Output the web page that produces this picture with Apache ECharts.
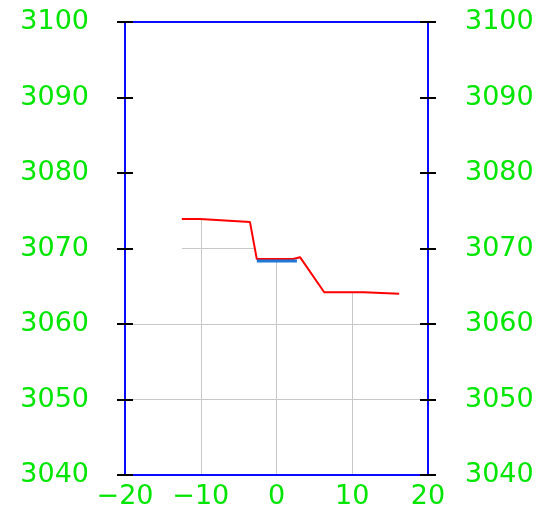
<!DOCTYPE html>
<html>
<head>
<meta charset="utf-8">
<script src="https://cdn.jsdelivr.net/npm/echarts@6/dist/echarts.min.js"></script>
<style>
  html, body { margin: 0; padding: 0; background: #fff; }
  #chart { width: 537px; height: 511px; }
</style>
</head>
<body>
<div id="chart"></div>
<script>
// 地形剖面线
var groundLine = [
  [-12.5, 3073.9], [-10.1, 3073.9], [-3.5, 3073.5], [-2.6, 3068.6],
  [2.2, 3068.6], [3.1, 3068.85], [6.3, 3064.2], [11.5, 3064.2], [16.2, 3064.0]
];
// 蓝色水平段
var blueLine = [[-2.6, 3068.35], [2.7, 3068.35]];
// 遮罩左右两侧高度
var maskLevel = 3064;

var xMin = -20, xMax = 20, xStep = 10;
var yMin = 3040, yMax = 3100, yStep = 10;

var green = '#00e600';
var blue = '#0a0aff';

// 遮罩: 剖面线以上区域为白色, 盖住网格线
var maskData = [[xMin, maskLevel], [groundLine[0][0], maskLevel]]
  .concat(groundLine)
  .concat([[groundLine[groundLine.length - 1][0], maskLevel], [xMax, maskLevel]]);

var chart = echarts.init(document.getElementById('chart'));

function xAx(opt) {
  return Object.assign({
    type: 'value', min: xMin, max: xMax, interval: xStep,
    axisLine: { show: false, onZero: false }, axisTick: { show: false },
    axisLabel: { show: false }, splitLine: { show: false }
  }, opt);
}
function yAx(opt) {
  return Object.assign({
    type: 'value', min: yMin, max: yMax, interval: yStep,
    axisLine: { show: false, onZero: false }, axisTick: { show: false },
    axisLabel: { show: false }, splitLine: { show: false }
  }, opt);
}

var labelFont = { color: green, fontSize: 27, fontFamily: 'DejaVu Sans' };
function plain(v) { return String(v); }

chart.setOption({
  animation: false,
  grid: { left: 125, right: 109, top: 22, bottom: 36, show: false, outerBoundsMode: 'none', containLabel: false },
  xAxis: [
    xAx({
      position: 'bottom', z: 10,
      axisLine: { show: true, onZero: false, lineStyle: { color: blue, width: 2 } },
      axisLabel: Object.assign({
        show: true, margin: 8,
        formatter: function (v) { return v < 0 ? '\u2212' + (-v) : '' + v; }
      }, labelFont)
    }),
    xAx({
      position: 'top', z: 10,
      axisLine: { show: true, onZero: false, lineStyle: { color: blue, width: 2 } }
    }),
    xAx({
      position: 'bottom', z: 0,
      splitLine: { show: true, lineStyle: { color: '#c8c8c8', width: 1 } }
    })
  ],
  yAxis: [
    yAx({
      position: 'left', z: 10,
      axisLine: { show: true, onZero: false, lineStyle: { color: blue, width: 2 } },
      axisTick: { show: true, length: 8, lineStyle: { color: '#000', width: 2 } },
      axisLabel: Object.assign({ show: true, margin: 36, formatter: plain }, labelFont)
    }),
    yAx({
      position: 'left', z: 10,
      axisTick: { show: true, inside: true, length: 8, lineStyle: { color: '#000', width: 2 } }
    }),
    yAx({
      position: 'right', z: 10,
      axisLine: { show: true, onZero: false, lineStyle: { color: blue, width: 2 } },
      axisTick: { show: true, length: 8, lineStyle: { color: '#000', width: 2 } },
      axisLabel: Object.assign({ show: true, margin: 37, formatter: plain }, labelFont)
    }),
    yAx({
      position: 'right', z: 10,
      axisTick: { show: true, inside: true, length: 8, lineStyle: { color: '#000', width: 2 } }
    }),
    yAx({
      position: 'left', z: 0,
      splitLine: { show: true, lineStyle: { color: '#c8c8c8', width: 1 } }
    })
  ],
  series: [
    {
      type: 'line', data: maskData, xAxisIndex: 0, yAxisIndex: 0,
      symbol: 'none', silent: true, z: 1,
      lineStyle: { width: 0, opacity: 0 },
      areaStyle: { color: '#ffffff', opacity: 1, origin: 'end' }
    },
    {
      type: 'line', data: groundLine, xAxisIndex: 0, yAxisIndex: 0,
      symbol: 'none', z: 3,
      lineStyle: { color: '#ff0000', width: 2 }
    },
    {
      type: 'line', data: blueLine, xAxisIndex: 0, yAxisIndex: 0,
      symbol: 'none', z: 4,
      lineStyle: { color: '#1f78d8', width: 3 }
    }
  ]
});
</script>
</body>
</html>
